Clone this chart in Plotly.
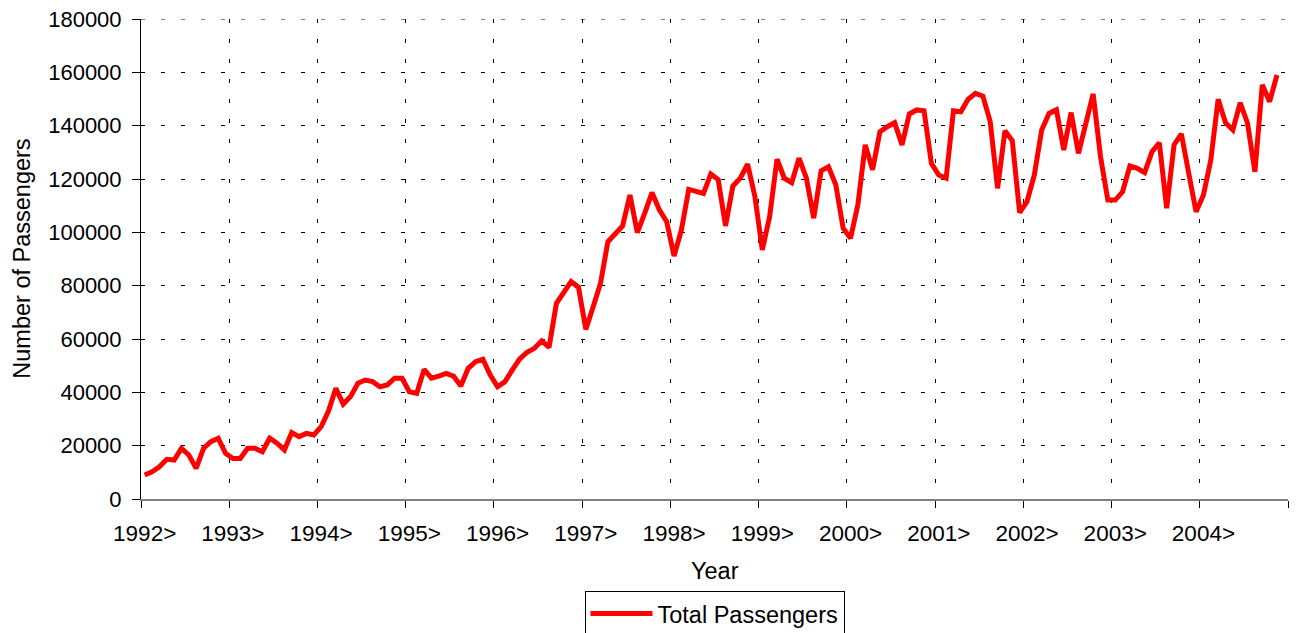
import plotly.graph_objects as go

year_labels = ["1992>", "1993>", "1994>", "1995>", "1996>", "1997>", "1998>",
               "1999>", "2000>", "2001>", "2002>", "2003>", "2004>"]

y1992 = [9000, 10200, 12100, 14900, 14600, 19000, 16500, 11500, 19000, 21500, 22800, 17100]
y1993 = [15200, 15200, 19000, 19000, 17700, 22800, 20900, 18400, 24900, 23400, 24600, 24000]
y1994 = [27100, 33000, 41500, 35600, 38400, 43400, 44600, 44000, 42100, 42800, 45300, 45300]
y1995 = [40200, 39600, 48600, 45300, 46100, 47100, 46100, 42400, 49000, 51500, 52400, 46500]
y1996 = [42100, 44000, 48400, 52500, 55000, 56500, 59300, 56900, 73400, 77800, 81500, 79400]
y1997 = [63600, 72100, 80900, 96500, 99600, 102400, 114000, 99900, 107100, 114900, 108400, 104000]
y1998 = [91100, 100900, 116100, 115400, 114600, 121900, 119800, 102400, 117400, 120300, 125600, 113400]
y1999 = [93400, 105900, 127400, 120300, 118600, 127800, 120300, 105300, 123100, 124600, 117800, 101500]
y2000 = [97800, 110300, 132800, 123500, 137700, 139600, 141100, 132800, 144400, 145900, 145600, 125900]
y2001 = [121500, 120300, 145600, 145200, 149900, 152100, 151100, 141500, 116500, 138100, 134400, 107400]
y2002 = [111500, 121500, 138400, 144600, 146000, 130900, 144900, 129600, 140600, 151900, 128400, 112100]
y2003 = [112100, 115200, 124900, 124000, 122400, 130200, 133600, 109000, 132800, 136900, 122100, 107700]
y2004 = [114000, 127100, 149900, 141100, 138400, 148600, 140900, 122700, 155300, 149000, 159000]

passengers = (y1992 + y1993 + y1994 + y1995 + y1996 + y1997 + y1998 +
              y1999 + y2000 + y2001 + y2002 + y2003 + y2004)
month_index = list(range(len(passengers)))
n_categories = 12 * len(year_labels)
y_max = 180000

FONT = "Liberation Sans, Arial, sans-serif"

fig = go.Figure()
fig.add_trace(go.Scatter(
    x=month_index, y=passengers, mode="lines", name="Total Passengers",
    line=dict(color="#FF0000", width=5),
))

# the page body adds an 8px offset, so the figure is sized to fit the window
fig.update_layout(
    width=1298, height=625,
    margin=dict(l=133, r=18, t=11, b=134, autoexpand=False),
    paper_bgcolor="white", plot_bgcolor="white",
    font=dict(family=FONT, size=22, color="black"),
    showlegend=True,
    legend=dict(
        orientation="h", x=0.5, xanchor="center", y=-0.191, yanchor="top",
        bordercolor="black", borderwidth=1, bgcolor="white",
        font=dict(size=23.5), itemwidth=62,
    ),
    annotations=[
        dict(text="Year", xref="paper", yref="paper", x=0.5, y=-0.151,
             xanchor="center", yanchor="middle", showarrow=False,
             font=dict(size=23.5)),
        dict(text="Number of Passengers", xref="paper", yref="paper",
             x=-0.104, y=0.5, xanchor="center", yanchor="middle",
             textangle=-90, showarrow=False, font=dict(size=23.5)),
    ],
    shapes=[
        # top gridline at the range edge (plotly drops edge gridlines)
        dict(type="line", xref="paper", yref="y", x0=0, x1=1, y0=y_max, y1=y_max,
             line=dict(color="black", width=1, dash="4px,16px"), layer="below"),
    ],
)

fig.update_xaxes(
    range=[-0.5, n_categories - 0.5],
    tickmode="array",
    tickvals=[12 * k for k in range(len(year_labels))],
    ticktext=year_labels,
    ticks="", showgrid=False, zeroline=False, automargin=False,
    showline=True, linecolor="#808080", linewidth=2,
    ticklabelstandoff=13, tickfont=dict(size=22.5),
    minor=dict(tickmode="linear", tick0=-0.5, dtick=12, ticks="outside",
               ticklen=7, tickcolor="black", showgrid=True,
               gridcolor="black", griddash="4px,16px", gridwidth=1),
)

fig.update_yaxes(
    range=[0, y_max], dtick=20000, tickformat="d", automargin=False,
    ticks="outside", ticklen=8, tickcolor="black",
    showline=True, linecolor="black", linewidth=1,
    showgrid=True, gridcolor="black", griddash="4px,16px", gridwidth=1,
    zeroline=False, ticklabelstandoff=6, tickfont=dict(size=22),
    ticklabeloverflow="allow",
)

fig.write_html("out.html")
